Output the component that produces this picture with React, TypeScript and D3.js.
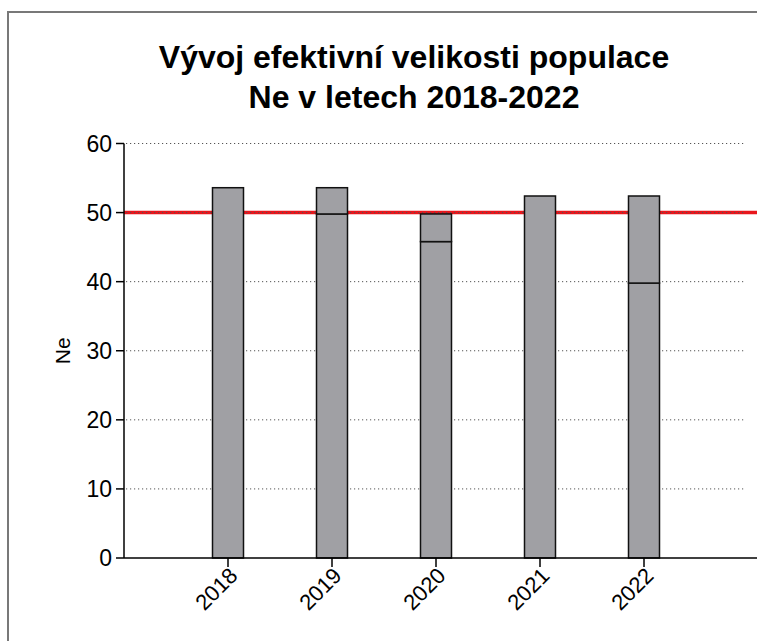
import React from "react";
import * as d3 from "d3";

const years = ["2018", "2019", "2020", "2021", "2022"];
const lowerValues = [53.6, 49.8, 45.8, 52.4, 39.8];
const upperValues = [53.6, 53.6, 49.8, 52.4, 52.4];
const yTicks = [0, 10, 20, 30, 40, 50, 60];
const gridValues = [10, 20, 30, 40, 50, 60];
const thresholdValue = 50;
const titleLines = ["Vývoj efektivní velikosti populace", "Ne v letech 2018-2022"];
const yLabel = "Ne";

const W = 757;
const H = 641;
const FONT = "'Liberation Sans', Arial, Helvetica, sans-serif";

export default function App() {
  const x0 = 124;
  const yScale = d3.scaleLinear().domain([0, 60]).range([558, 143.5]);
  const xScale = d3.scalePoint<string>().domain(years).range([x0, 748]).padding(1);
  const barW = 31;
  const gridEnd = 745;

  return (
    <svg width={W} height={H} style={{ position: "absolute", left: 0, top: 0, background: "#fff" }}>
      <rect x={0} y={0} width={W} height={H} fill="#fff" />
      <path d={`M8,${H} V12 H${W}`} fill="none" stroke="#787878" strokeWidth={2} />
      {titleLines.map((t, i) => (
        <text key={t} x={414} y={68 + i * 40} textAnchor="middle" fontFamily={FONT} fontWeight="bold" fontSize={32} fill="#000">
          {t}
        </text>
      ))}
      <line x1={x0} x2={W} y1={yScale(thresholdValue)} y2={yScale(thresholdValue)} stroke="#e8161c" strokeWidth={3.5} />
      {gridValues.map((v) => (
        <line key={v} x1={x0 + 2} x2={gridEnd} y1={yScale(v)} y2={yScale(v)} stroke="#555" strokeWidth={1} strokeDasharray="1.2,2.8" />
      ))}
      {years.map((yr, i) => {
        const cx = xScale(yr) as number;
        const lo = lowerValues[i];
        const hi = upperValues[i];
        return (
          <g key={yr}>
            <rect x={cx - barW / 2} y={yScale(lo)} width={barW} height={yScale(0) - yScale(lo)} fill="#a0a0a4" stroke="#111" strokeWidth={1.5} />
            {hi > lo && (
              <rect x={cx - barW / 2} y={yScale(hi)} width={barW} height={yScale(lo) - yScale(hi)} fill="#a0a0a4" stroke="#111" strokeWidth={1.5} />
            )}
          </g>
        );
      })}
      <line x1={x0} x2={x0} y1={yScale(60)} y2={yScale(0)} stroke="#000" strokeWidth={1.5} />
      <line x1={x0} x2={W} y1={yScale(0)} y2={yScale(0)} stroke="#000" strokeWidth={1.5} />
      {yTicks.map((v) => (
        <g key={v}>
          <line x1={x0 - 8} x2={x0} y1={yScale(v)} y2={yScale(v)} stroke="#000" strokeWidth={1.5} />
          <text x={x0 - 12} y={yScale(v)} dy="0.36em" textAnchor="end" fontFamily={FONT} fontSize={23} fill="#000">
            {v}
          </text>
        </g>
      ))}
      {years.map((yr) => {
        const cx = xScale(yr) as number;
        return (
          <g key={yr}>
            <line x1={cx} x2={cx} y1={yScale(0)} y2={yScale(0) + 9} stroke="#000" strokeWidth={1.5} />
            <text transform={`translate(${cx + 11},${yScale(0) + 19}) rotate(-45)`} textAnchor="end" fontFamily={FONT} fontSize={22} fill="#000">
              {yr}
            </text>
          </g>
        );
      })}
      <text transform={`translate(70,${(yScale(0) + yScale(60)) / 2}) rotate(-90)`} textAnchor="middle" fontFamily={FONT} fontSize={21} fill="#000">
        {yLabel}
      </text>
    </svg>
  );
}
